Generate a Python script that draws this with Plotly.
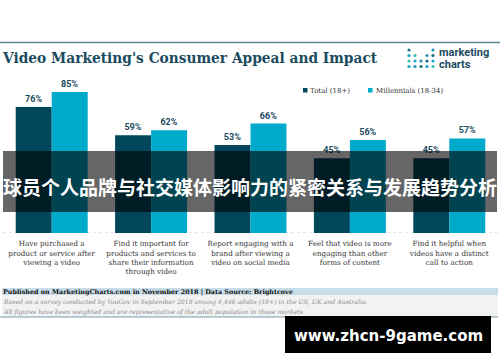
import plotly.graph_objects as go

W, H = 500, 362

categories = [
    "Have purchased a<br>product or service after<br>viewing a video",
    "Find it important for<br>products and services to<br>share their information<br>through video",
    "Report engaging with a<br>brand after viewing a<br>video on social media",
    "Feel that video is more<br>engaging than other<br>forms of content",
    "Find it helpful when<br>videos have a distinct<br>call to action",
]
series_names = ["Total (18+)", "Millennials (18-34)"]
total_values = [76, 59, 53, 45, 45]
millennial_values = [85, 62, 66, 56, 57]

title_text = "Video Marketing's Consumer Appeal and Impact"
banner_text = "球员个人品牌与社交媒体影响力的紧密关系与发展趋势分析"
watermark_text = "www.zhcn-9game.com"
source_text = "Published on MarketingCharts.com in November 2018 | Data Source: Brightcove"
note_lines = [
    "Based on a survey conducted by YouGov in September 2018 among 4,446 adults (18+) in the US, UK and Australia.",
    "All figures have been weighted and are representative of the adult population in those markets.",
]

DARK = "#01475c"
LIGHT = "#00aacb"
TEXT_DARK = "#1b4b5f"


def px(x):
    return x / W


def py(y):
    return 1 - y / H


fig = go.Figure()
for name, vals, col in [(series_names[0], total_values, DARK), (series_names[1], millennial_values, LIGHT)]:
    fig.add_trace(go.Bar(
        x=categories, y=vals, name=name, marker=dict(color=col, line=dict(width=0)),
        texttemplate="%{y}%", textposition="outside", cliponaxis=False,
        textfont=dict(family="Roboto", size=9, color=TEXT_DARK, weight="bold"),
        showlegend=False,
    ))

shapes = []
annotations = []

# top border line
shapes.append(dict(type="line", xref="paper", yref="paper", x0=0, x1=1, y0=py(42.5), y1=py(42.5),
                   line=dict(color="#5f8799", width=1.5)))
# baseline dotted
shapes.append(dict(type="line", xref="paper", yref="y", x0=px(3), x1=px(498), y0=0, y1=0,
                   line=dict(color="#cfcfcf", width=1, dash="dot"), layer="below"))

# title
annotations.append(dict(text="<b>" + title_text + "</b>", xref="paper", yref="paper", x=px(0), y=py(58),
                        xanchor="left", yanchor="middle", showarrow=False,
                        font=dict(family="DejaVu Serif Condensed, DejaVu Serif", size=15.3, color=TEXT_DARK)))

# custom legend
leg = [(303, DARK, 308, series_names[0]), (368, LIGHT, 374, series_names[1])]
for sx, col, tx, name in leg:
    shapes.append(dict(type="rect", xref="paper", yref="paper", x0=px(sx), x1=px(sx + 4.5),
                       y0=py(92.5), y1=py(88), fillcolor=col, line=dict(width=0)))
    annotations.append(dict(text=name, xref="paper", yref="paper", x=px(tx), y=py(90.5),
                            xanchor="left", yanchor="middle", showarrow=False,
                            font=dict(family="DejaVu Serif", size=7, color="#333333")))

# logo dots
cols_x = [409, 415, 421, 427, 433]
rows_y = [50, 55.5, 61, 66.5]
pattern = [[1, 0, 0, 0, 1], [1, 1, 0, 1, 1], [1, 1, 1, 1, 1], [1, 1, 1, 1, 1]]
dot_colors = ["#1f6f8b", "#1aa6c8", "#3bbfb0", "#1aa6c8", "#2b8fb0"]
for ri, row in enumerate(pattern):
    for ci, on in enumerate(row):
        if on:
            cx, cy = cols_x[ci], rows_y[ri]
            shapes.append(dict(type="circle", xref="paper", yref="paper",
                               x0=px(cx - 1.6), x1=px(cx + 1.6), y0=py(cy + 1.6), y1=py(cy - 1.6),
                               fillcolor=dot_colors[(ri + ci) % 5], line=dict(width=0)))
annotations.append(dict(text="marketing", xref="paper", yref="paper", x=px(437), y=py(52.5),
                        xanchor="left", yanchor="middle", showarrow=False,
                        font=dict(family="Roboto", size=11, color=TEXT_DARK, weight="bold")))
annotations.append(dict(text="charts", xref="paper", yref="paper", x=px(437), y=py(64),
                        xanchor="left", yanchor="middle", showarrow=False,
                        font=dict(family="Roboto", size=11, color=TEXT_DARK, weight="bold")))

# footer bands
shapes.append(dict(type="rect", xref="paper", yref="paper", x0=px(2), x1=px(498), y0=py(295), y1=py(288),
                   fillcolor="#c8dde8", line=dict(width=0)))
shapes.append(dict(type="rect", xref="paper", yref="paper", x0=px(2), x1=px(498), y0=py(317), y1=py(295),
                   fillcolor="#f2f2f2", line=dict(width=0)))
shapes.append(dict(type="line", xref="paper", yref="paper", x0=0, x1=px(498), y0=py(317), y1=py(317),
                   line=dict(color="#7a9aaa", width=1)))
annotations.append(dict(text="<b>" + source_text + "</b>", xref="paper", yref="paper", x=px(0.5), y=py(291.5),
                        xanchor="left", yanchor="middle", showarrow=False,
                        font=dict(family="DejaVu Serif", size=6.4, color="#111111")))
for i, line in enumerate(note_lines):
    annotations.append(dict(text="<i>" + line + "</i>", xref="paper", yref="paper", x=px(0.5), y=py(302 + 9.5 * i),
                            xanchor="left", yanchor="middle", showarrow=False,
                            font=dict(family="DejaVu Serif", size=6.2, color="#8a8a8a")))

# overlay banner
shapes.append(dict(type="rect", xref="paper", yref="paper", x0=px(3), x1=px(497), y0=py(212), y1=py(151),
                   fillcolor="rgba(0,0,0,0.6)", line=dict(width=0), layer="above"))
annotations.append(dict(text=banner_text, xref="paper", yref="paper", x=px(250), y=py(186),
                        xanchor="center", yanchor="middle", showarrow=False,
                        font=dict(family="Noto Sans CJK SC", size=19, color="white", weight="bold")))

# watermark
shapes.append(dict(type="rect", xref="paper", yref="paper", x0=px(285), x1=px(491), y0=py(353), y1=py(316),
                   fillcolor="black", line=dict(width=0), layer="above"))
annotations.append(dict(text=watermark_text, xref="paper", yref="paper", x=px(388), y=py(336),
                        xanchor="center", yanchor="middle", showarrow=False,
                        font=dict(family="DejaVu Sans", size=15, color="white", weight="bold")))

fig.update_layout(
    width=W, height=H, margin=dict(l=0, r=0, t=0, b=0),
    paper_bgcolor="white", plot_bgcolor="white",
    barmode="group", bargap=0.276, bargroupgap=0,
    xaxis=dict(domain=[px(2), px(499)], showgrid=False, showline=False, zeroline=False,
               tickfont=dict(family="DejaVu Serif", size=7.2, color="#333333"), ticks="",
               ticklabelstandoff=5),
    yaxis=dict(domain=[py(233), py(92)], range=[0, 85], visible=False, showgrid=False, zeroline=False),
    shapes=shapes, annotations=annotations,
    showlegend=False,
)

fig.write_html("out.html", config={"displayModeBar": False},
               post_script="document.body.style.margin='0';document.body.style.padding='0';")
